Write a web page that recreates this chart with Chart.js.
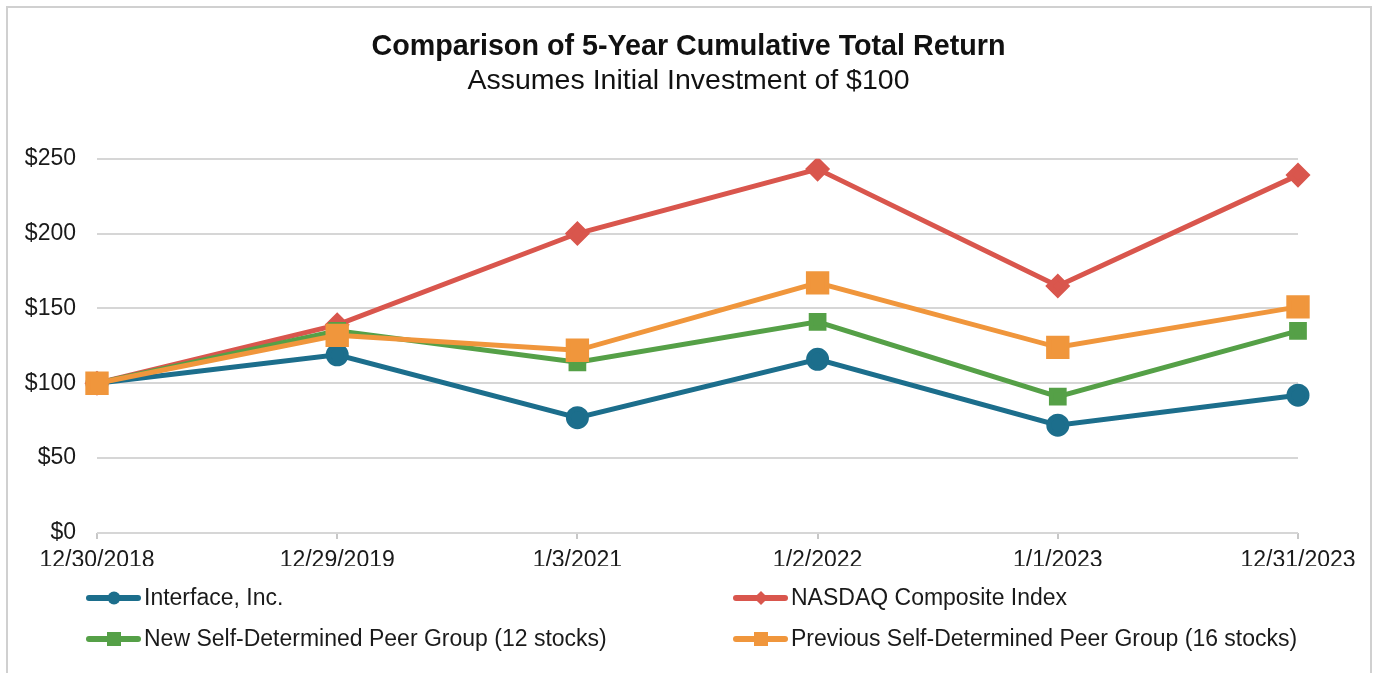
<!DOCTYPE html>
<html>
<head>
<meta charset="utf-8">
<script src="https://cdn.jsdelivr.net/npm/chart.js@4/dist/chart.umd.min.js"></script>
<style>
  html, body { margin: 0; padding: 0; background: #fff; overflow: hidden; }
  #frame {
    position: absolute; left: 6px; top: 6px; width: 1362px; height: 720px;
    border: 2px solid #d0d0d0; box-sizing: content-box;
  }
  #wrap { position: absolute; left: 0; top: 0; width: 1377px; height: 673px; }
  .legend-item {
    position: absolute; display: flex; align-items: center;
    font-family: "Liberation Sans", Arial, sans-serif; font-size: 23px; color: #1a1a1a;
    white-space: nowrap;
  }
  .icon { position: relative; width: 55px; height: 16px; margin-right: 3px; }
  .icon .ln { position: absolute; left: 0; right: 0; top: 5px; height: 6px; border-radius: 3px; }
  .icon .mk { position: absolute; left: 50%; top: 50%; transform: translate(-50%, -50%); }
</style>
</head>
<body>
<div id="frame"></div>
<div id="wrap">
  <canvas id="chart" width="1377" height="673"></canvas>
  <div id="legend"></div>
</div>
<script>
document.addEventListener('DOMContentLoaded', function() {
    // period end dates
    const dates = ['12/30/2018', '12/29/2019', '1/3/2021', '1/2/2022', '1/1/2023', '12/31/2023'];

    // cumulative total return, $100 invested
    const interfaceInc = [100, 119, 77, 116, 72, 92];
    const nasdaq = [100, 139, 200, 243, 165, 239];
    const newPeers = [100, 135, 114, 141, 91, 135];
    const prevPeers = [100, 132, 122, 167, 124, 151];

    const yTicks = [0, 50, 100, 150, 200, 250];

    const colors = {
        interface: '#1c6e8c',
        nasdaq: '#d9564d',
        newPeers: '#55a047',
        prevPeers: '#f0963c'
    };

    const font = "'Liberation Sans', Arial, sans-serif";

    const ctx = document.getElementById('chart').getContext('2d');
    const chart = new Chart(ctx, {
        type: 'line',
        data: {
            labels: dates,
            datasets: [{
                label: 'Interface, Inc.',
                data: interfaceInc,
                borderColor: colors.interface,
                backgroundColor: colors.interface,
                borderWidth: 5,
                pointStyle: 'circle',
                pointRadius: 9,
                order: 3
            }, {
                label: 'NASDAQ Composite Index',
                data: nasdaq,
                borderColor: colors.nasdaq,
                backgroundColor: colors.nasdaq,
                borderWidth: 5,
                pointStyle: 'rectRot',
                pointRadius: 9,
                order: 2
            }, {
                label: 'New Self-Determined Peer Group (12 stocks)',
                data: newPeers,
                borderColor: colors.newPeers,
                backgroundColor: colors.newPeers,
                borderWidth: 5,
                pointStyle: 'rect',
                pointRadius: 9,
                order: 1
            }, {
                label: 'Previous Self-Determined Peer Group (16 stocks)',
                data: prevPeers,
                borderColor: colors.prevPeers,
                backgroundColor: colors.prevPeers,
                borderWidth: 5,
                pointStyle: 'rect',
                pointRadius: 13,
                order: 0
            }]
        },
        options: {
            responsive: false,
            animation: false,
            layout: {
                padding: { top: 30, left: 20, right: 20, bottom: 107 }
            },
            plugins: {
                legend: { display: false },
                tooltip: { enabled: false },
                title: {
                    display: true,
                    text: 'Comparison of 5-Year Cumulative Total Return',
                    color: '#111',
                    font: { family: font, size: 28.7, weight: 'bold' },
                    padding: { top: 0, bottom: 0 }
                },
                subtitle: {
                    display: true,
                    text: 'Assumes Initial Investment of $100',
                    color: '#111',
                    font: { family: font, size: 28.5 },
                    padding: { top: 0, bottom: 60 }
                }
            },
            scales: {
                x: {
                    offset: false,
                    grid: {
                        drawOnChartArea: false,
                        drawTicks: true,
                        tickLength: 6,
                        color: '#c8c8c8',
                        lineWidth: 2
                    },
                    border: { display: false },
                    ticks: {
                        color: '#1a1a1a',
                        font: { family: font, size: 23 },
                        padding: 8,
                        maxRotation: 0,
                        autoSkip: false
                    },
                    afterFit: function(scale) { scale.height = 33; }
                },
                y: {
                    min: 0,
                    max: 250,
                    afterBuildTicks: function(scale) {
                        scale.ticks = yTicks.map(v => ({ value: v }));
                    },
                    grid: {
                        drawTicks: false,
                        color: '#d6d6d6',
                        lineWidth: 2
                    },
                    border: { display: false },
                    ticks: {
                        color: '#1a1a1a',
                        font: { family: font, size: 23 },
                        padding: 21,
                        callback: v => '$' + v
                    },
                    afterFit: function(scale) { scale.width = 77; }
                },
                // empty right-hand spacer so the plot (and the title) sit centred in the frame
                spacer: {
                    type: 'linear',
                    position: 'right',
                    grid: { display: false },
                    border: { display: false },
                    ticks: { display: false },
                    afterFit: function(scale) { scale.width = 59; }
                }
            }
        }
    });

    // legend below the chart, two columns, line with marker
    const legend = document.getElementById('legend');
    const items = [
        { ds: 0, x: 86, y: 597, mk: 'width:13px;height:13px;border-radius:50%;' },
        { ds: 1, x: 733, y: 597, mk: 'width:10px;height:10px;transform:translate(-50%,-50%) rotate(45deg);' },
        { ds: 2, x: 86, y: 638, mk: 'width:14px;height:14px;' },
        { ds: 3, x: 733, y: 638, mk: 'width:14px;height:14px;' }
    ];
    items.forEach(function(it) {
        const ds = chart.data.datasets[it.ds];
        const el = document.createElement('div');
        el.className = 'legend-item';
        el.style.left = it.x + 'px';
        el.style.top = (it.y - 13) + 'px';
        el.innerHTML =
            '<span class="icon"><span class="ln" style="background:' + ds.borderColor + '"></span>' +
            '<span class="mk" style="background:' + ds.borderColor + ';' + it.mk + '"></span></span>' +
            '<span>' + ds.label + '</span>';
        legend.appendChild(el);
    });
});
</script>
</body>
</html>
